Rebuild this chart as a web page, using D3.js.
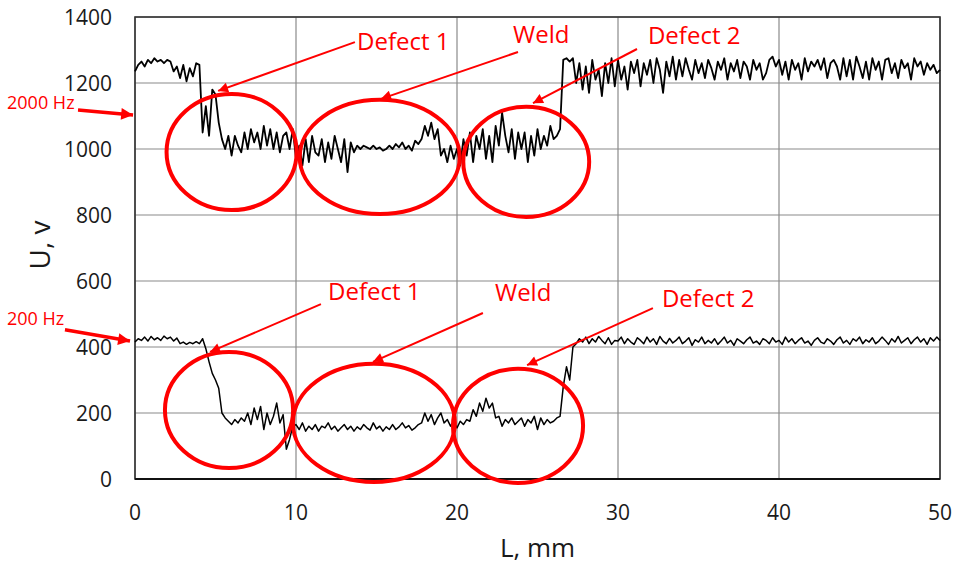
<!DOCTYPE html>
<html>
<head>
<meta charset="utf-8">
<script src="https://cdn.jsdelivr.net/npm/d3@7"></script>
<style>
  body { margin: 0; background: #fff; }
  svg { display: block; }
</style>
</head>
<body>
<div id="viz"></div>
<script>
// data (step 0.2 mm)
var step = 0.2;

var upper2000 = [
  1235,1255,1265,1250,1270,1260,1275,1265,1270,1260,
  1270,1265,1235,1250,1215,1255,1205,1245,1220,1260,
  1255,1050,1130,1040,1180,1165,1080,1030,1000,1040,
  980,1040,1010,990,1050,1000,1060,1020,1050,1000,
  1070,1010,1060,1000,1050,990,1040,1050,1000,1060,
  970,1010,950,1030,960,1040,990,980,1030,960,
  1020,970,1040,1000,960,1030,930,1020,990,1010,
  1000,1010,1005,1000,1010,1000,1005,995,1000,1010,
  1000,1015,1005,1020,1000,1010,995,1025,1015,1030,
  1070,1040,1080,1030,1060,980,1000,960,1010,970,
  1000,950,1030,980,1050,960,1040,1000,1060,970,
  1040,960,1070,1010,1110,1040,990,1060,970,1050,
  1000,1050,960,1040,980,1060,1000,1040,1010,1070,
  1030,1040,1060,1270,1275,1265,1275,1200,1260,1180,
  1250,1170,1270,1210,1240,1160,1260,1200,1275,1190,
  1270,1210,1250,1180,1265,1230,1270,1190,1260,1225,
  1270,1200,1275,1240,1170,1265,1220,1280,1210,1270,
  1220,1275,1240,1210,1270,1230,1260,1215,1270,1245,
  1210,1265,1240,1275,1210,1260,1235,1270,1215,1265,
  1250,1210,1270,1240,1260,1210,1230,1270,1280,1250,
  1270,1225,1265,1210,1270,1240,1260,1210,1275,1235,
  1265,1250,1270,1240,1275,1215,1260,1270,1250,1210,
  1275,1220,1270,1210,1280,1250,1215,1265,1210,1275,
  1240,1265,1210,1270,1275,1230,1260,1215,1270,1245,
  1260,1210,1275,1250,1265,1225,1260,1240,1255,1230,
  1240
];

var lower200 = [
  415,425,420,430,418,432,422,428,420,433,
  425,430,418,427,410,415,408,414,410,416,
  410,425,395,355,320,300,275,200,185,175,
  165,180,170,185,175,200,165,215,180,220,
  150,200,165,190,230,170,195,90,120,160,
  165,150,170,145,160,150,165,145,160,155,
  170,150,160,145,155,165,150,160,145,158,
  150,165,155,148,170,152,160,145,158,150,
  165,150,158,170,155,162,148,155,165,170,
  200,175,195,165,185,200,170,180,160,175,
  155,175,165,180,175,210,190,230,205,245,
  215,230,185,190,160,180,170,185,165,175,
  185,160,180,170,190,150,185,165,180,170,
  175,185,190,280,340,300,400,410,425,415,
  430,410,425,415,432,420,410,428,408,420,
  418,430,410,425,415,408,428,420,410,430,
  415,425,408,432,418,410,426,412,420,430,
  410,418,428,405,422,415,430,410,420,412,
  425,408,418,430,412,420,405,425,418,410,
  422,430,412,418,408,425,420,410,428,415,
  420,408,430,415,425,410,420,428,412,418,
  405,420,428,415,410,425,418,408,422,430,
  412,420,408,425,418,430,410,422,415,428,
  410,418,430,420,408,425,415,432,412,420,
  428,410,422,430,415,425,408,428,418,430,
  420
];

var xTicks = [0, 10, 20, 30, 40, 50];
var yTicks = [0, 200, 400, 600, 800, 1000, 1200, 1400];

// annotations in data units: [L, U, rx (mm), ry (U)]
var ellipses = [
  [6.0, 991, 4.04, 176],
  [15.2, 976, 4.97, 173],
  [24.3, 961, 3.91, 167],
  [5.84, 209, 3.98, 176],
  [14.84, 170, 5.03, 179],
  [23.79, 161, 4.04, 173]
];

// [L1, U1, L2, U2, heavy]
var arrows = [
  [13.66, 1324, 5.16, 1176, 0],
  [23.79, 1294, 15.28, 1152, 0],
  [31.18, 1303, 24.72, 1139, 0],
  [11.55, 530, 4.66, 385, 0],
  [21.61, 503, 14.78, 355, 0],
  [32.17, 518, 24.35, 345, 0],
  [-3.54, 1118, -0.12, 1103, 1],
  [-4.35, 452, -0.31, 418, 1]
];

var labelText = ["Defect 1", "Weld", "Defect 2", "Defect 1", "Weld", "Defect 2", "2000 Hz", "200 Hz"];
var labelPos = [
  [13.79, 1300], [23.48, 1321], [31.86, 1318],
  [11.99, 542], [22.36, 539], [32.73, 521],
  [-7.95, 1121], [-7.95, 467]
];
var labelSize = [24, 24, 24, 24, 24, 24, 18, 18];

// layout
var W = 960, H = 567;
var margin = {left: 135, top: 17, right: 20, bottom: 88};
var width = W - margin.left - margin.right;
var height = H - margin.top - margin.bottom;

var x = d3.scaleLinear().domain([0, 50]).range([0, width]);
var y = d3.scaleLinear().domain([0, 1400]).range([height, 0]);

var svg = d3.select("#viz")
  .append("svg")
  .attr("width", W)
  .attr("height", H);

var defs = svg.append("defs");
defs.append("marker")
  .attr("id", "head")
  .attr("viewBox", "0 0 10 10")
  .attr("refX", 10).attr("refY", 5)
  .attr("markerWidth", 7).attr("markerHeight", 5)
  .attr("markerUnits", "strokeWidth")
  .attr("orient", "auto")
  .append("path").attr("d", "M0,0L10,5L0,10z").attr("fill", "#f00");
defs.append("marker")
  .attr("id", "headBig")
  .attr("viewBox", "0 0 10 10")
  .attr("refX", 10).attr("refY", 5)
  .attr("markerWidth", 4.5).attr("markerHeight", 3.4)
  .attr("markerUnits", "strokeWidth")
  .attr("orient", "auto")
  .append("path").attr("d", "M0,0L10,5L0,10z").attr("fill", "#f00");

var g = svg.append("g")
  .attr("transform", "translate(" + margin.left + "," + margin.top + ")");

// grid
g.append("g").selectAll("line")
  .data(yTicks)
  .enter().append("line")
  .attr("x1", 0).attr("x2", width)
  .attr("y1", function(d) { return y(d); })
  .attr("y2", function(d) { return y(d); })
  .attr("stroke", "#8a8a8a")
  .attr("stroke-width", 1.2);

g.append("g").selectAll("line")
  .data(xTicks)
  .enter().append("line")
  .attr("y1", 0).attr("y2", height)
  .attr("x1", function(d) { return x(d); })
  .attr("x2", function(d) { return x(d); })
  .attr("stroke", "#8a8a8a")
  .attr("stroke-width", 1.2);

g.append("rect")
  .attr("width", width).attr("height", height)
  .attr("fill", "none")
  .attr("stroke", "#333")
  .attr("stroke-width", 1.6);

g.append("line")
  .attr("x1", 0).attr("x2", width)
  .attr("y1", height).attr("y2", height)
  .attr("stroke", "#111")
  .attr("stroke-width", 2.2);

// tick labels
g.append("g").selectAll("text")
  .data(yTicks)
  .enter().append("text")
  .text(function(d) { return d; })
  .attr("x", -23)
  .attr("y", function(d) { return y(d) + 8; })
  .attr("text-anchor", "end")
  .attr("font-family", "Open Sans")
  .attr("font-size", "21px")
  .attr("fill", "#1a1a1a");

g.append("g").selectAll("text")
  .data(xTicks)
  .enter().append("text")
  .text(function(d) { return d; })
  .attr("x", function(d) { return x(d); })
  .attr("y", height + 41)
  .attr("text-anchor", "middle")
  .attr("font-family", "Open Sans")
  .attr("font-size", "21px")
  .attr("fill", "#1a1a1a");

// axis titles
svg.append("text")
  .text("L, mm")
  .attr("x", margin.left + width / 2)
  .attr("y", 557)
  .attr("text-anchor", "middle")
  .attr("font-family", "Open Sans")
  .attr("font-size", "26px")
  .attr("fill", "#1a1a1a");

svg.append("text")
  .text("U, v")
  .attr("transform", "translate(50,245) rotate(-90)")
  .attr("text-anchor", "middle")
  .attr("font-family", "Open Sans")
  .attr("font-size", "28px")
  .attr("fill", "#1a1a1a");

// series
var line = d3.line()
  .x(function(d, i) { return x(i * step); })
  .y(function(d) { return y(d); });

[upper2000, lower200].forEach(function(s, k) {
  g.append("path")
    .datum(s)
    .attr("d", line)
    .attr("fill", "none")
    .attr("stroke", "#000")
    .attr("stroke-width", k === 0 ? 1.8 : 1.5)
    .attr("stroke-linejoin", "round");
});

// annotations
g.append("g").selectAll("ellipse")
  .data(ellipses)
  .enter().append("ellipse")
  .attr("cx", function(d) { return x(d[0]); })
  .attr("cy", function(d) { return y(d[1]); })
  .attr("rx", function(d) { return x(d[2]) - x(0); })
  .attr("ry", function(d) { return y(0) - y(d[3]); })
  .attr("fill", "none")
  .attr("stroke", "#f00")
  .attr("stroke-width", 4);

g.append("g").selectAll("line")
  .data(arrows)
  .enter().append("line")
  .attr("x1", function(d) { return x(d[0]); })
  .attr("y1", function(d) { return y(d[1]); })
  .attr("x2", function(d) { return x(d[2]); })
  .attr("y2", function(d) { return y(d[3]); })
  .attr("stroke", "#f00")
  .attr("stroke-width", function(d) { return d[4] ? 3.5 : 2; })
  .attr("marker-end", function(d) { return d[4] ? "url(#headBig)" : "url(#head)"; });

g.append("g").selectAll("text")
  .data(labelText)
  .enter().append("text")
  .text(function(d) { return d; })
  .attr("x", function(d, i) { return x(labelPos[i][0]); })
  .attr("y", function(d, i) { return y(labelPos[i][1]); })
  .attr("font-family", "Open Sans")
  .attr("font-size", function(d, i) { return labelSize[i] + "px"; })
  .attr("fill", "#f00");
</script>
</body>
</html>
